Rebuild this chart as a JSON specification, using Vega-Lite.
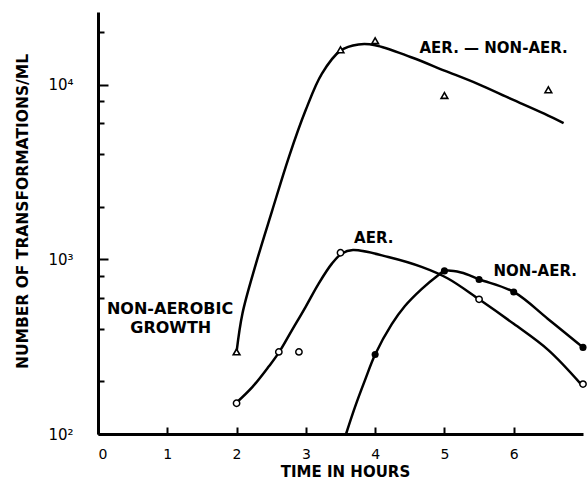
{
  "$schema": "https://vega.github.io/schema/vega-lite/v6.json",
  "width": 485,
  "height": 422,
  "autosize": {"type": "none"},
  "padding": {"left": 98, "top": 12, "right": 4, "bottom": 53},
  "background": "white",
  "config": {
    "view": {"stroke": null},
    "font": "DejaVu Sans",
    "axis": {
      "grid": false,
      "domainColor": "black",
      "domainWidth": 3,
      "tickColor": "black",
      "tickWidth": 2,
      "labelColor": "black",
      "titleColor": "black",
      "labelFont": "DejaVu Sans",
      "titleFont": "DejaVu Sans",
      "titleFontWeight": "bold"
    }
  },
  "datasets": {
    "curves": [
      {"series": "diff", "t": 2.0, "n": 295},
      {"series": "diff", "t": 2.085, "n": 490},
      {"series": "diff", "t": 2.28, "n": 944},
      {"series": "diff", "t": 2.515, "n": 1905},
      {"series": "diff", "t": 2.755, "n": 3846},
      {"series": "diff", "t": 2.995, "n": 7096},
      {"series": "diff", "t": 3.23, "n": 11508},
      {"series": "diff", "t": 3.5, "n": 15630},
      {"series": "diff", "t": 3.76, "n": 16940},
      {"series": "diff", "t": 4.0, "n": 16790},
      {"series": "diff", "t": 4.52, "n": 14320},
      {"series": "diff", "t": 5.0, "n": 12020},
      {"series": "diff", "t": 5.48, "n": 10090},
      {"series": "diff", "t": 5.96, "n": 8280},
      {"series": "diff", "t": 6.44, "n": 6810},
      {"series": "diff", "t": 6.72, "n": 6010},
      {"series": "aer", "t": 1.99, "n": 150},
      {"series": "aer", "t": 2.23, "n": 186},
      {"series": "aer", "t": 2.47, "n": 245},
      {"series": "aer", "t": 2.61, "n": 292},
      {"series": "aer", "t": 2.8, "n": 393},
      {"series": "aer", "t": 2.995, "n": 533},
      {"series": "aer", "t": 3.185, "n": 726},
      {"series": "aer", "t": 3.376, "n": 944},
      {"series": "aer", "t": 3.52, "n": 1079},
      {"series": "aer", "t": 3.68, "n": 1128},
      {"series": "aer", "t": 4.19, "n": 1030},
      {"series": "aer", "t": 4.67, "n": 904},
      {"series": "aer", "t": 5.05, "n": 776},
      {"series": "aer", "t": 5.5, "n": 590},
      {"series": "aer", "t": 6.0, "n": 427},
      {"series": "aer", "t": 6.5, "n": 302},
      {"series": "aer", "t": 6.97, "n": 193},
      {"series": "nonaer", "t": 3.58, "n": 100},
      {"series": "nonaer", "t": 3.71, "n": 143},
      {"series": "nonaer", "t": 3.855, "n": 204},
      {"series": "nonaer", "t": 4.0, "n": 285},
      {"series": "nonaer", "t": 4.24, "n": 425},
      {"series": "nonaer", "t": 4.43, "n": 540},
      {"series": "nonaer", "t": 4.67, "n": 675},
      {"series": "nonaer", "t": 4.91, "n": 811},
      {"series": "nonaer", "t": 5.0, "n": 857},
      {"series": "nonaer", "t": 5.24, "n": 840},
      {"series": "nonaer", "t": 5.51, "n": 766},
      {"series": "nonaer", "t": 6.0, "n": 650},
      {"series": "nonaer", "t": 6.49, "n": 457},
      {"series": "nonaer", "t": 7.0, "n": 313}
    ],
    "points": [
      {"kind": "tri", "t": 2.0, "n": 295},
      {"kind": "tri", "t": 3.5, "n": 15800},
      {"kind": "tri", "t": 4.0, "n": 17800},
      {"kind": "tri", "t": 5.0, "n": 8650},
      {"kind": "tri", "t": 6.5, "n": 9330},
      {"kind": "open", "t": 2.0, "n": 150},
      {"kind": "open", "t": 2.61, "n": 295},
      {"kind": "open", "t": 2.9, "n": 295},
      {"kind": "open", "t": 3.5, "n": 1090},
      {"kind": "open", "t": 5.5, "n": 590},
      {"kind": "open", "t": 7.0, "n": 193},
      {"kind": "filled", "t": 4.0, "n": 285},
      {"kind": "filled", "t": 5.0, "n": 858},
      {"kind": "filled", "t": 5.5, "n": 766},
      {"kind": "filled", "t": 6.0, "n": 650},
      {"kind": "filled", "t": 7.0, "n": 313}
    ],
    "labels": [
      {"t": 5.71, "n": 16180, "label": "AER. — NON-AER."},
      {"t": 3.98, "n": 1318, "label": "AER."},
      {"t": 6.31, "n": 854, "label": "NON-AER."}
    ],
    "labels2": [
      {"t": 1.04, "n": 518, "label": "NON-AEROBIC"},
      {"t": 1.05, "n": 403, "label": "GROWTH"}
    ]
  },
  "layer": [
    {
      "data": {"name": "curves"},
      "mark": {"type": "line", "interpolate": "catmull-rom", "color": "black", "strokeWidth": 2.5},
      "encoding": {
        "x": {
          "field": "t", "type": "quantitative",
          "scale": {"domain": [0, 7], "nice": false, "zero": false},
          "axis": {
            "values": [0, 1, 2, 3, 4, 5, 6],
            "format": "d",
            "tickSize": -7,
            "labelPadding": 20,
            "labelFontSize": 14,
            "title": "TIME IN HOURS",
            "titleFontSize": 15,
            "titleX": 247,
            "titleY": 37,
            "titleBaseline": "middle"
          }
        },
        "y": {
          "field": "n", "type": "quantitative",
          "scale": {"type": "log", "domain": [100, 26000], "nice": false},
          "axis": {
            "values": [100, 200, 400, 600, 800, 1000, 2000, 4000, 6000, 8000, 10000, 20000],
            "labelExpr": "datum.value == 100 ? '10²' : datum.value == 1000 ? '10³' : datum.value == 10000 ? '10⁴' : ''",
            "tickSize": {"condition": {"test": "datum.value == 100 || datum.value == 1000 || datum.value == 10000", "value": -10}, "value": -6},
            "labelPadding": 35,
            "labelFontSize": 15,
            "title": "NUMBER OF TRANSFORMATIONS/ML",
            "titleFontSize": 15.5,
            "titleX": -76,
            "titleY": 199,
            "titleBaseline": "middle",
            "titleAngle": -90
          }
        },
        "detail": {"field": "series"}
      }
    },
    {
      "data": {"name": "points"},
      "transform": [{"filter": "datum.kind == 'tri'"}],
      "mark": {"type": "point", "shape": "triangle-up", "filled": true, "fill": "white", "stroke": "black", "strokeWidth": 1.6, "size": 45, "opacity": 1},
      "encoding": {
        "x": {"field": "t", "type": "quantitative"},
        "y": {"field": "n", "type": "quantitative"}
      }
    },
    {
      "data": {"name": "points"},
      "transform": [{"filter": "datum.kind == 'open'"}],
      "mark": {"type": "point", "shape": "circle", "filled": true, "fill": "white", "stroke": "black", "strokeWidth": 1.5, "size": 40, "opacity": 1},
      "encoding": {
        "x": {"field": "t", "type": "quantitative"},
        "y": {"field": "n", "type": "quantitative"}
      }
    },
    {
      "data": {"name": "points"},
      "transform": [{"filter": "datum.kind == 'filled'"}],
      "mark": {"type": "point", "shape": "circle", "filled": true, "color": "black", "size": 50, "opacity": 1},
      "encoding": {
        "x": {"field": "t", "type": "quantitative"},
        "y": {"field": "n", "type": "quantitative"}
      }
    },
    {
      "data": {"name": "labels"},
      "mark": {"type": "text", "font": "DejaVu Sans", "fontSize": 15, "fontWeight": "bold", "color": "black", "align": "center", "baseline": "middle"},
      "encoding": {
        "x": {"field": "t", "type": "quantitative"},
        "y": {"field": "n", "type": "quantitative"},
        "text": {"field": "label"}
      }
    },
    {
      "data": {"name": "labels2"},
      "mark": {"type": "text", "font": "DejaVu Sans", "fontSize": 16, "fontWeight": "bold", "color": "black", "align": "center", "baseline": "middle"},
      "encoding": {
        "x": {"field": "t", "type": "quantitative"},
        "y": {"field": "n", "type": "quantitative"},
        "text": {"field": "label"}
      }
    }
  ]
}
